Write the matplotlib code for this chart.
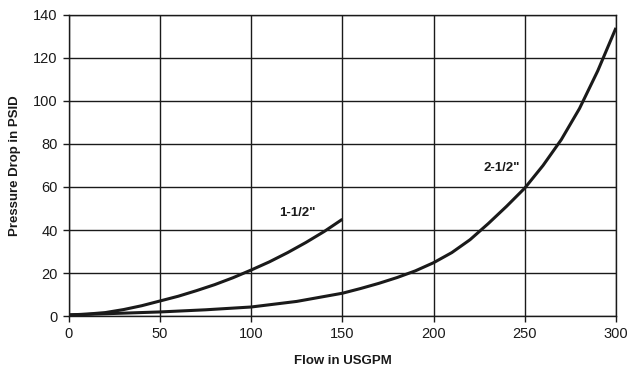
import matplotlib.pyplot as plt

# dados
vazao_15 = [0, 10, 20, 30, 40, 50, 60, 70, 80, 90, 100, 110, 120, 130, 140, 150]
pressao_15 = [0.5, 0.9, 1.6, 3.0, 4.8, 7.0, 9.2, 11.8, 14.6, 17.8, 21.4, 25.2, 29.5, 34.2, 39.3, 45]

vazao_25 = [0, 25, 50, 75, 100, 125, 150, 160, 170, 180, 190, 200, 210, 220,
            230, 240, 250, 260, 270, 280, 290, 300]
pressao_25 = [0.5, 1.2, 1.9, 2.9, 4.2, 6.8, 10.6, 12.8, 15.2, 17.9, 21.0, 24.8, 29.5, 35.5,
              43.0, 51.0, 59.5, 70.0, 82.0, 96.5, 114, 134]

x_ticks = [0, 50, 100, 150, 200, 250, 300]
y_ticks = [0, 20, 40, 60, 80, 100, 120, 140]

plt.rcParams['font.family'] = ['Liberation Sans', 'DejaVu Sans']

fig = plt.figure(figsize=(6.37, 3.74), dpi=100)
ax = fig.add_axes([0.108, 0.155, 0.859, 0.805])

cor = '#1a1a1a'
ax.plot(vazao_15, pressao_15, color=cor, lw=2.2, solid_capstyle='butt', solid_joinstyle='round')
ax.plot(vazao_25, pressao_25, color=cor, lw=2.2, solid_capstyle='butt', solid_joinstyle='round')

ax.text(125.5, 48, '1-1/2"', ha='center', va='center', fontsize=9.5, fontweight='bold', color=cor)
ax.text(237.5, 69, '2-1/2"', ha='center', va='center', fontsize=9.5, fontweight='bold', color=cor)

ax.set_xlim(0, 300)
ax.set_ylim(0, 140)
ax.set_xticks(x_ticks)
ax.set_yticks(y_ticks)
ax.grid(True, color=cor, lw=1.0)
ax.set_axisbelow(True)
for s in ax.spines.values():
    s.set_color(cor)
    s.set_linewidth(1.0)
ax.tick_params(direction='out', length=4, width=1.0, colors=cor, labelsize=10.5, pad=4)

ax.set_xlabel('Flow in USGPM', fontsize=9.5, fontweight='bold', color=cor, labelpad=10)
ax.set_ylabel('Pressure Drop in PSID', fontsize=9.5, fontweight='bold', color=cor, labelpad=9)

fig.savefig('out.png', dpi=100)
